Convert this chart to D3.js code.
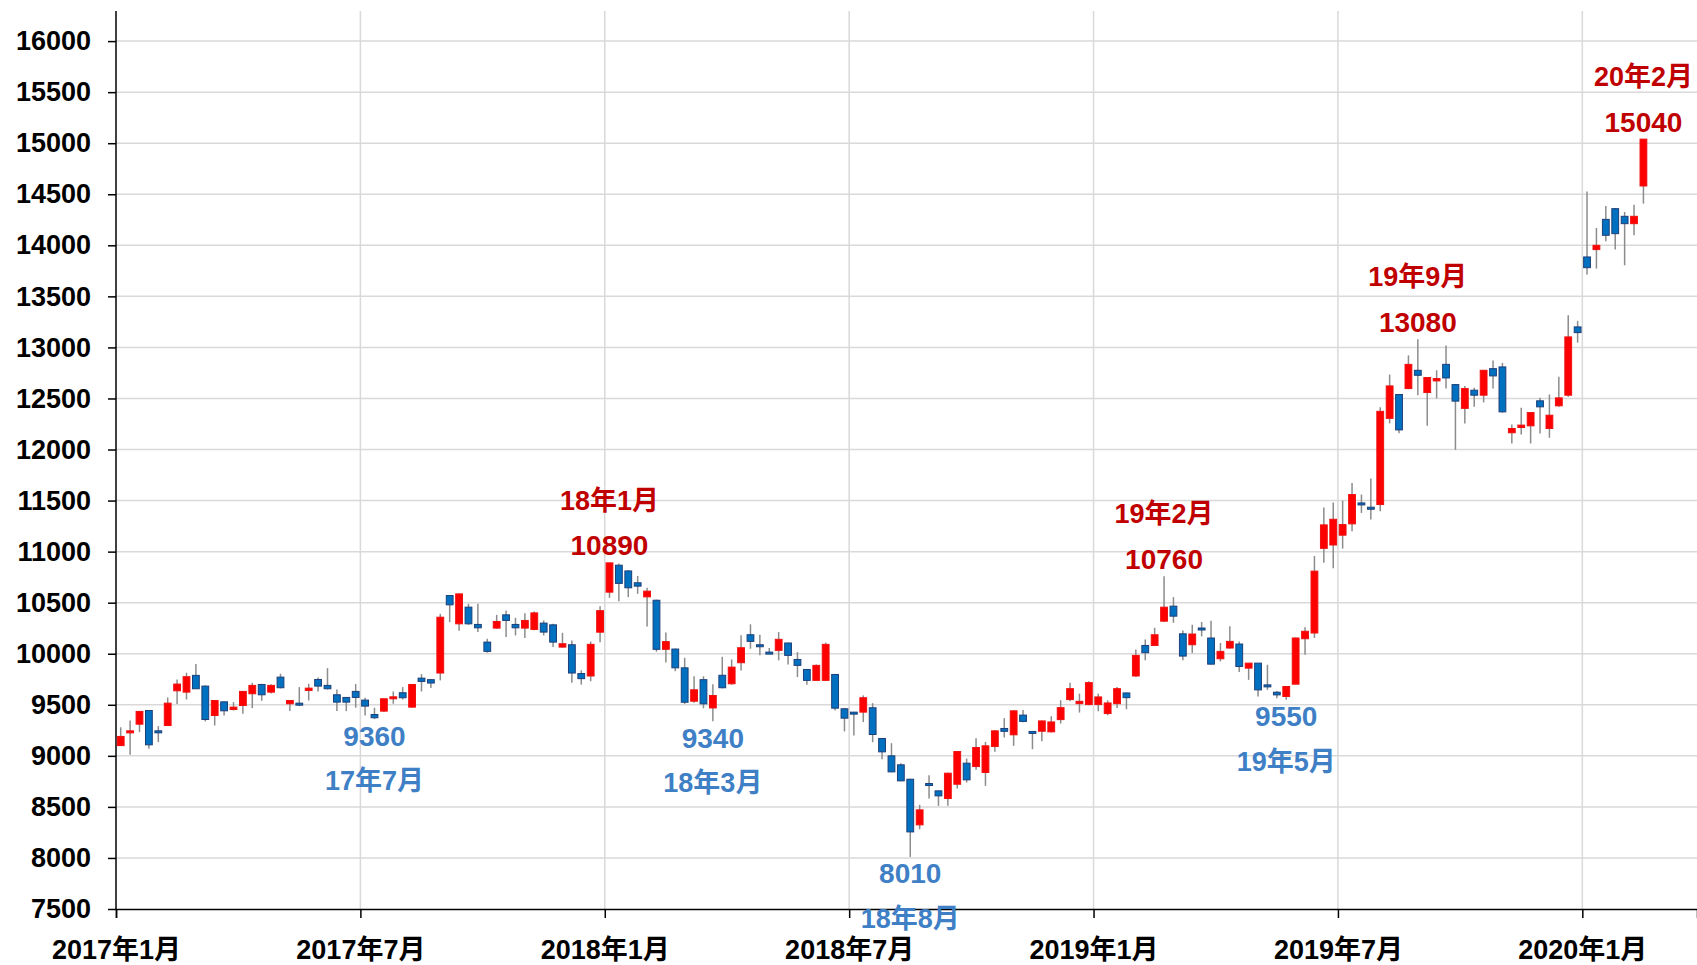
<!DOCTYPE html>
<html>
<head>
<meta charset="utf-8">
<script src="https://d3js.org/d3.v7.min.js"></script>
<style>
  body { margin: 0; background: #fff; }
  text { font-family: "Liberation Sans", "Noto Sans CJK JP", sans-serif; }
</style>
</head>
<body>
<div id="chart"></div>
<script>
// weekly candles, 2017/1 - 2020/2
var opens = [9100,9225,9310,9444,9245,9297,9637,9624,9788,9683,9395,9529,9454,9493,9608,9699,
  9624,9771,9510,9516,9641,9748,9690,9598,9572,9631,9546,9405,9438,9559,9618,9477,
  9761,9746,9811,10570,10293,10456,10287,10114,10251,10381,10287,10251,10238,10300,10283,10065,
  10088,9806,9782,10211,10603,10867,10811,10695,10557,10524,10043,10046,9862,9535,9746,9469,
  9789,9706,9912,10186,10088,10016,10033,10105,9944,9846,9739,9739,9797,9461,9428,9428,
  9471,9170,9000,8912,8771,8324,8729,8657,8582,8722,8928,8895,8837,9092,9268,9206,
  9399,9239,9241,9235,9355,9551,9511,9502,9502,9414,9511,9616,9782,10081,10081,10319,
  10466,10195,10088,10252,10154,9951,10056,10095,9859,9908,9695,9623,9581,9702,10147,10203,
  11032,11065,11161,11272,11477,11435,11461,12305,12539,12597,12776,12558,12672,12834,12636,12403,
  12581,12532,12792,12809,12164,12216,12232,12477,12206,12428,12532,13201,13886,13958,14254,14359,
  14284,14212,14581];
var highs = [9280,9346,9440,9450,9291,9572,9748,9814,9899,9690,9545,9530,9526,9635,9716,9705,
  9700,9804,9545,9673,9706,9768,9859,9650,9575,9703,9569,9471,9560,9631,9673,9700,
  9800,9750,10391,10575,10590,10489,10489,10147,10381,10423,10352,10397,10414,10326,10293,10205,
  10130,9838,10119,10465,10890,10883,10817,10761,10646,10530,10208,10050,9960,9779,9779,9700,
  9970,9944,10180,10288,10186,10056,10212,10110,10016,9850,9895,10108,9800,9470,9430,9592,
  9516,9175,9124,8928,8775,8520,8810,8660,8835,9045,8974,9173,9137,9250,9369,9445,
  9448,9240,9345,9388,9544,9717,9609,9730,9609,9544,9674,9620,10042,10140,10254,10760,
  10554,10228,10285,10311,10324,10105,10269,10121,9910,9910,9892,9636,9685,10160,10259,10957,
  11432,11481,11500,11673,11559,11715,12413,12734,12545,12922,13080,12710,12776,13020,12640,12623,
  12604,12780,12873,12849,12245,12408,12365,12506,12539,12712,13315,13260,14528,14170,14385,14365,
  14326,14398,15040];
var lows = [9100,9010,9232,9069,9134,9297,9507,9552,9657,9337,9297,9395,9444,9412,9467,9539,
  9610,9660,9438,9487,9542,9631,9650,9438,9438,9471,9395,9360,9430,9510,9552,9470,
  9630,9665,9739,10309,10225,10283,10212,10010,10245,10163,10179,10153,10230,10179,10065,10060,
  9717,9697,9730,10112,10547,10514,10554,10587,10267,10020,9914,9829,9509,9520,9466,9340,
  9660,9696,9837,10049,9984,10000,9935,9895,9771,9696,9735,9735,9444,9239,9199,9330,
  9134,8967,8840,8750,8010,8281,8582,8510,8510,8680,8739,8863,8706,9039,9180,9098,
  9330,9065,9143,9230,9316,9534,9424,9495,9437,9397,9469,9456,9772,9935,10075,10310,
  10303,9935,10007,10170,9895,9925,10050,9820,9744,9581,9646,9564,9550,9700,9990,10154,
  10891,10836,11030,11200,11379,11314,11396,12256,12159,12590,12532,12234,12500,12597,11997,12256,
  12419,12461,12597,12360,12059,12147,12059,12157,12115,12420,12516,13047,13713,13772,14039,13958,
  13804,14098,14408];
var closes = [9190,9245,9435,9108,9228,9516,9703,9775,9657,9356,9542,9441,9477,9631,9690,9598,
  9690,9667,9542,9500,9663,9683,9657,9526,9526,9572,9487,9373,9559,9578,9569,9699,
  9729,9713,10358,10479,10586,10293,10254,10023,10316,10326,10254,10326,10400,10212,10114,10098,
  9811,9756,10092,10422,10890,10689,10646,10662,10613,10043,10119,9862,9525,9647,9509,9591,
  9667,9869,10059,10121,10075,10003,10141,9984,9886,9739,9886,10092,9467,9369,9415,9569,
  9209,9039,8843,8755,8255,8471,8714,8608,8830,9042,8765,9082,9098,9245,9240,9441,
  9337,9225,9342,9332,9472,9658,9534,9717,9577,9518,9658,9570,9984,10010,10186,10456,
  10368,9977,10193,10235,9898,10023,10121,9875,9908,9646,9678,9597,9679,10154,10220,10809,
  11262,11317,11265,11559,11458,11415,12374,12623,12192,12834,12727,12705,12695,12701,12474,12597,
  12532,12776,12721,12369,12206,12239,12362,12418,12336,12506,13103,13145,13781,14000,14098,14114,
  14212,14284,15040];

var tickWeeks = [0, 26, 52, 78, 104, 130, 156];
var tickLabels = ["2017年1月","2017年7月","2018年1月","2018年7月","2019年1月","2019年7月","2020年1月"];
var yTicks = [7500,8000,8500,9000,9500,10000,10500,11000,11500,12000,12500,13000,13500,14000,14500,15000,15500,16000];

// annotated highs / lows
var noteWeeks  = [52, 111, 138, 162, 27, 63, 84, 124];
var noteValues = [10890, 10760, 13080, 15040, 9360, 9340, 8010, 9550];
var noteMonths = ["18年1月","19年2月","19年9月","20年2月","17年7月","18年3月","18年8月","19年5月"];
var noteIsHigh = [true, true, true, true, false, false, false, false];

function drawCandles(){
    var W = 1697, H = 965;
    var left = 116, top = 11, bottom = 909;

    var svg = d3.select("#chart").append("svg")
        .attr("width", W)
        .attr("height", H);

    // week index -> x, 26 weeks between labelled ticks
    var x = d3.scaleLinear().domain([0, 168.2]).range([left, W]);
    var y = d3.scaleLinear().domain([7500, 16000]).range([bottom, 41.1]);

    // grid
    svg.append("g").selectAll("line")
        .data(yTicks.slice(1))
        .enter().append("line")
        .attr("x1", left).attr("x2", W)
        .attr("y1", function(d){ return y(d); })
        .attr("y2", function(d){ return y(d); })
        .attr("stroke", "#d9d9d9")
        .attr("stroke-width", 1.5);
    svg.append("g").selectAll("line")
        .data(tickWeeks.slice(1))
        .enter().append("line")
        .attr("x1", function(d){ return x(d); })
        .attr("x2", function(d){ return x(d); })
        .attr("y1", top).attr("y2", bottom)
        .attr("stroke", "#d9d9d9")
        .attr("stroke-width", 1.5);

    // y axis
    var yAxis = svg.append("g")
        .attr("transform", "translate(" + left + ",0)")
        .call(d3.axisLeft(y).tickValues(yTicks).tickFormat(d3.format("d"))
            .tickSize(8).tickPadding(17));
    yAxis.select(".domain").remove();
    yAxis.append("line")
        .attr("x1", 0).attr("x2", 0).attr("y1", top).attr("y2", bottom)
        .attr("stroke", "#000").attr("stroke-width", 1.5);
    yAxis.selectAll("line").attr("stroke", "#000").attr("stroke-width", 1.5);
    yAxis.selectAll("text")
        .attr("fill", "#000")
        .style("font-size", "27px")
        .style("font-weight", "bold");

    // x axis
    var xAxis = svg.append("g")
        .attr("transform", "translate(0," + bottom + ")")
        .call(d3.axisBottom(x).tickValues(tickWeeks)
            .tickFormat(function(d, i){ return tickLabels[i]; })
            .tickSize(9).tickPadding(22));
    xAxis.select(".domain").attr("stroke", "#000").attr("stroke-width", 1.5);
    xAxis.selectAll("line").attr("stroke", "#000").attr("stroke-width", 1.5);
    xAxis.selectAll("text")
        .attr("fill", "#000")
        .style("font-size", "27px")
        .style("font-weight", "bold");

    // candles
    var idx = d3.range(opens.length);
    var candle = svg.append("g").selectAll("g")
        .data(idx)
        .enter().append("g");

    candle.append("line")
        .attr("x1", function(i){ return x(i + 0.5); })
        .attr("x2", function(i){ return x(i + 0.5); })
        .attr("y1", function(i){ return y(highs[i]); })
        .attr("y2", function(i){ return y(lows[i]); })
        .attr("stroke", "#8c8c8c")
        .attr("stroke-width", 1.5);

    candle.append("rect")
        .attr("x", function(i){ return x(i + 0.5) - 3.4; })
        .attr("width", 6.8)
        .attr("y", function(i){ return y(Math.max(opens[i], closes[i])); })
        .attr("height", function(i){ return Math.max(2, Math.abs(y(opens[i]) - y(closes[i]))); })
        .attr("fill", function(i){ return closes[i] > opens[i] ? "#ff0000" : "#0070c0"; })
        .attr("stroke", function(i){ return closes[i] > opens[i] ? "#f01010" : "#1f3f78"; })
        .attr("stroke-width", 1);

    // notes on highs and lows
    var note = svg.append("g").selectAll("g")
        .data(d3.range(noteWeeks.length))
        .enter().append("g")
        .attr("fill", function(k){ return noteIsHigh[k] ? "#c00000" : "#3e7fc5"; })
        .style("font-weight", "bold")
        .attr("text-anchor", "middle");

    note.append("text")
        .attr("x", function(k){ return x(noteWeeks[k] + 0.5); })
        .attr("y", function(k){ return y(noteValues[k]) + (noteIsHigh[k] ? -17 : 17); })
        .attr("dominant-baseline", "central")
        .style("font-size", "28px")
        .text(function(k){ return noteValues[k]; });
    note.append("text")
        .attr("x", function(k){ return x(noteWeeks[k] + 0.5); })
        .attr("y", function(k){ return y(noteValues[k]) + (noteIsHigh[k] ? -62 : 62); })
        .attr("dominant-baseline", "central")
        .style("font-size", "27px")
        .text(function(k){ return noteMonths[k]; });
}
drawCandles();
</script>
</body>
</html>
